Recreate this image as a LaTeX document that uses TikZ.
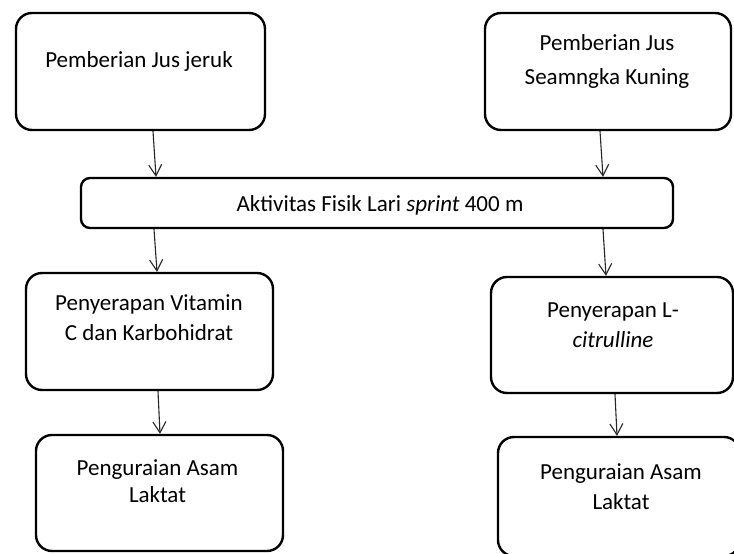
\documentclass[tikz,border=0pt]{standalone}
\usepackage{fontspec}
\setmainfont{Carlito}
\usetikzlibrary{arrows.meta,calc}
\begin{document}
\begin{tikzpicture}[x=1pt,y=-1pt,
  box/.style={draw=black, line width=2.4pt, rounded corners=16pt, inner sep=0pt},
  bar/.style={draw=black, line width=2.4pt, rounded corners=9pt, inner sep=0pt},
  lbl/.style={font=\fontsize{23}{30}\selectfont, text=black, inner sep=0pt, anchor=base},
  arr/.style={draw=black!85, line width=1.1pt, -{Straight Barb[length=11pt,width=13pt,line width=1.1pt]}}
]
\useasboundingbox[fill=white] (0,0) rectangle (734,554);

% boxes
\node[box, minimum width=249pt, minimum height=117pt] (b1) at (140.5,71.5) {};
\node[box, minimum width=246pt, minimum height=117pt] (b2) at (608,71.5) {};
\node[bar, minimum width=592pt, minimum height=50pt] (mid) at (377,203) {};
\node[box, minimum width=247pt, minimum height=117pt] (b3) at (149.5,331.5) {};
\node[box, minimum width=242pt, minimum height=116pt] (b4) at (612,335) {};
\node[box, minimum width=247pt, minimum height=116pt] (b5) at (159.5,493) {};
\node[box, minimum width=242pt, minimum height=119pt] (b6) at (619,496.5) {};

% texts
\node[lbl] (t1) at (139,67) {Pemberian Jus jeruk};
\node[lbl] (t2a) at (607,50) {Pemberian Jus};
\node[lbl] (t2b) at (607,84) {Seamngka Kuning};
\node[lbl] (tm) at (380,211) {Aktivitas Fisik Lari \textit{sprint} 400 m};
\node[lbl] (t3a) at (149,310) {Penyerapan Vitamin};
\node[lbl] (t3b) at (149,340) {C dan Karbohidrat};
\node[lbl] (t4a) at (613,317) {Penyerapan L-};
\node[lbl] (t4b) at (613,347) {\textit{citrulline}};
\node[lbl] (t5a) at (157.5,475) {Penguraian Asam};
\node[lbl] (t5b) at (157.5,502) {Laktat};
\node[lbl] (t6a) at (621,479) {Penguraian Asam};
\node[lbl] (t6b) at (621,509) {Laktat};

% arrows
\draw[arr] ([xshift=12.5pt]b1.south) -- ([xshift=-221pt]mid.north);
\draw[arr] ([xshift=-8pt]b2.south) -- ([xshift=226pt]mid.north);
\draw[arr] ([xshift=-223pt]mid.south) -- ([xshift=7.5pt]b3.north);
\draw[arr] ([xshift=226pt]mid.south) -- ([xshift=-6pt]b4.north);
\draw[arr] ([xshift=8.5pt]b3.south) -- ([xshift=0.5pt]b5.north);
\draw[arr] ([xshift=3pt]b4.south) -- ([xshift=-2pt]b6.north);
\end{tikzpicture}
\end{document}
